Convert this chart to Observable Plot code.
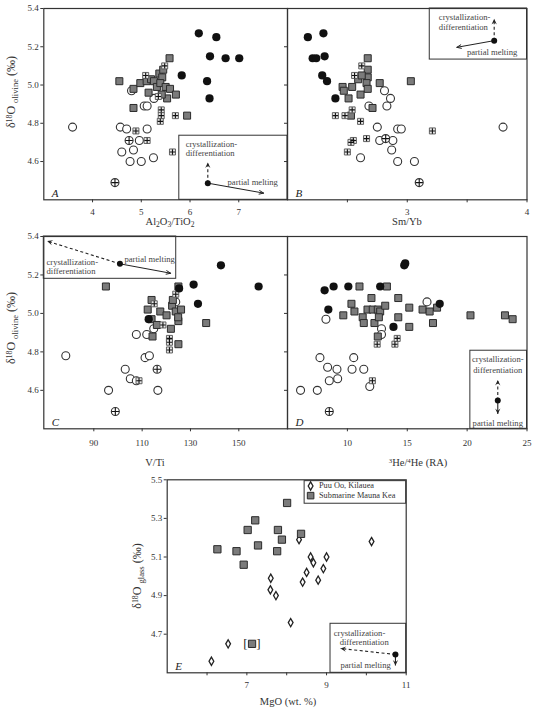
<!DOCTYPE html>
<html><head><meta charset="utf-8">
<script src="https://cdn.jsdelivr.net/npm/d3@7"></script>
<script src="https://cdn.jsdelivr.net/npm/@observablehq/plot@0.6"></script>
<style>
body{margin:0;background:#fff;}
#fig{position:relative;width:534px;height:708px;overflow:hidden;font-family:"Liberation Serif","Times New Roman",serif;color:#333;background:#fff;}
.lab{position:absolute;white-space:nowrap;line-height:1;}
.lab sup{font-size:0.65em;vertical-align:0.45em;line-height:0;}
.lab sub{font-size:0.72em;vertical-align:-0.35em;line-height:0;}
</style></head><body><div id="fig"></div>
<script>
// ---------- DATA ----------
// Panel A: delta18O olivine vs Al2O3/TiO2
const aBlack = [[6.18,5.27],[6.54,5.25],[6.41,5.15],[6.73,5.14],[7.01,5.14],[5.83,5.05],[6.35,5.02],[6.40,4.93]];
const aOpen = [[3.59,4.78],[4.80,4.97],[5.06,4.89],[5.12,4.89],[5.26,4.93],[4.57,4.78],[4.70,4.77],[5.12,4.77],[4.96,4.71],[4.60,4.65],[4.84,4.66],[4.77,4.60],[5.00,4.60],[5.25,4.62]];
const aCross = [[4.75,4.71],[4.46,4.49]];
const aGray = [[4.55,5.02],[4.84,4.98],[4.84,4.88],[4.98,5.01],[5.11,5.02],[5.20,5.03],[5.26,5.02],[5.32,4.99],[5.37,5.06],[5.43,5.04],[5.45,5.08],[5.58,5.14],[5.39,5.01],[5.50,4.99],[5.59,4.98],[5.53,4.93],[5.42,4.95],[5.71,4.95],[5.94,4.84],[5.15,4.96]];
const aPlus = [[4.89,4.76],[5.12,4.71],[5.39,4.81],[5.41,4.87],[5.41,4.84],[5.70,4.84],[5.64,4.65],[5.09,5.05],[5.48,5.10],[5.35,4.94]];
// Panel B: vs Sm/Yb
const bBlack = [[2.17,5.25],[2.30,5.27],[2.21,5.14],[2.24,5.14],[2.31,5.15],[2.29,5.05],[2.33,5.02],[2.40,4.93]];
const bOpen = [[2.81,4.97],[2.86,4.93],[2.83,4.89],[2.68,4.89],[2.75,4.78],[2.92,4.77],[2.95,4.77],[2.77,4.71],[2.88,4.71],[2.87,4.66],[2.61,4.62],[2.92,4.60],[3.06,4.60],[3.80,4.78]];
const bCross = [[3.10,4.49],[2.82,4.72]];
const bGray = [[2.67,5.14],[2.67,5.08],[2.59,5.03],[2.67,5.04],[2.62,5.05],[2.46,4.99],[2.54,4.99],[2.66,5.01],[2.67,4.98],[2.61,4.95],[2.51,4.93],[2.77,5.01],[3.03,5.02],[2.71,4.88],[2.53,4.84],[2.47,4.97]];
const bPlus = [[2.62,5.10],[2.56,5.05],[2.40,4.84],[2.48,4.84],[2.54,4.87],[2.61,4.81],[2.66,4.72],[2.55,4.71],[2.53,4.70],[2.50,4.65],[3.21,4.76]];
// Panel C: vs V/Ti
const cBlack = [[142.6,5.25],[131.3,5.15],[125.3,5.13],[133.1,5.05],[158.2,5.14],[112.7,4.97]];
const cOpen = [[78.4,4.78],[96.1,4.60],[103.0,4.71],[105.1,4.66],[107.6,4.65],[107.6,4.89],[111.9,4.89],[111.2,4.77],[113.0,4.78],[116.5,4.60],[114.8,4.92],[123.9,5.06]];
const cCross = [[98.9,4.49],[116.2,4.71]];
const cGray = [[95.0,5.14],[125.0,5.14],[112.3,5.02],[113.9,5.07],[113.9,4.97],[114.3,4.88],[116.1,4.94],[117.5,5.01],[120.1,4.99],[121.9,4.92],[122.4,5.04],[122.7,5.07],[123.9,5.01],[125.0,4.96],[126.1,5.02],[136.5,4.95],[125.0,4.84],[124.9,4.98]];
const cPlus = [[115.0,5.05],[123.9,5.10],[118.6,4.94],[121.3,4.87],[121.3,4.85],[121.3,4.81],[108.7,4.65]];
// Panel D: vs 3He/4He
const dBlack = [[8.10,5.12],[8.85,5.14],[10.08,5.14],[12.74,5.14],[8.41,5.02],[14.75,5.25],[14.83,5.26],[17.71,5.05],[13.85,4.93]];
const dOpen = [[8.21,4.97],[16.65,5.06],[12.85,4.92],[12.85,4.89],[7.71,4.77],[10.53,4.77],[8.35,4.72],[9.13,4.71],[10.39,4.71],[11.37,4.71],[8.49,4.65],[9.19,4.66],[6.09,4.60],[7.49,4.60],[11.87,4.62]];
const dCross = [[8.49,4.49]];
const dGray = [[11.01,5.14],[13.30,5.14],[9.66,4.99],[10.34,5.05],[10.59,5.01],[11.28,4.98],[11.37,4.95],[12.01,5.08],[11.68,5.02],[12.12,5.02],[12.54,5.02],[12.74,5.01],[12.26,4.95],[12.63,4.98],[13.16,5.04],[12.54,4.88],[14.25,5.08],[14.25,4.98],[15.17,5.03],[15.17,4.93],[16.28,5.02],[16.87,5.01],[17.15,4.95],[17.49,5.03],[20.28,4.99],[23.16,4.99],[23.80,4.97]];
const dPlus = [[12.49,4.84],[13.97,4.84],[14.16,4.87],[12.09,4.65]];
// Panel E: delta18O glass vs MgO
const ePuuOo = [[6.11,4.56],[6.53,4.65],[7.60,4.99],[7.59,4.93],[7.73,4.90],[8.10,4.76],[8.31,5.19],[8.40,4.97],[8.50,5.02],[8.60,5.10],[8.67,5.07],[8.79,4.98],[8.92,5.04],[9.00,5.10],[10.13,5.18]];
const eMaunaKea = [[6.26,5.14],[6.74,5.13],[6.92,5.06],[7.02,5.24],[7.21,5.29],[7.28,5.16],[7.78,5.24],[7.76,5.13],[7.88,5.19],[8.01,5.38],[8.36,5.22]];
const eBracketed = [[7.13,4.65]];
const legendNames = ["Puu Oo, Kilauea", "Submarine Mauna Kea"];

// tick values
const olivineTicks = [4.6, 4.8, 5.0, 5.2, 5.4];
const glassTicks = [4.7, 4.9, 5.1, 5.3, 5.5];
const alTiTicks = [4, 5, 6, 7];
const smYbTicks = [2.5, 3, 3.5, 4];
const smYbLabeled = [3, 4];
const vTiTicks = [90, 110, 130, 150];
const heTicks = [10, 15, 20, 25];
const mgoTicks = [6, 7, 8, 9, 10, 11];
const mgoLabeled = [7, 9, 11];
const insetLines = ["crystallization-", "differentiation", "partial melting"];

// ---------- annotations (data units) ----------
const insetA = {box:[5.78,8,4.4,4.735], dot:[6.365,4.487], up:[6.365,4.595], melt:[7.51,4.435], meltArrow:true, anchor:"start",
  text:[[5.91,4.688,insetLines[0]],[5.91,4.641,insetLines[1]],[6.77,4.49,insetLines[2]]]};
const insetB = {box:[3.188,4,5.133,5.4], dot:[3.726,5.232], up:[3.726,5.346], melt:[3.414,5.197], meltArrow:true, anchor:"start",
  text:[[3.264,5.354,insetLines[0]],[3.264,5.302,insetLines[1]],[3.498,5.171,insetLines[2]]]};
const insetC = {box:[69.3,124.1,5.18,5.4], dot:[100.8,5.258], up:[70.7,5.376], melt:[121.8,5.209], meltArrow:true, anchor:"start",
  text:[[70.4,5.266,insetLines[0]],[70.4,5.219,insetLines[1]],[102.7,5.28,insetLines[2]]]};
const insetD = {box:[20.27,25,4.4,4.806], dot:[22.56,4.547], up:[22.56,4.654], melt:[22.56,4.477], meltArrow:false, anchor:"middle",
  text:[[22.56,4.761,insetLines[0]],[22.56,4.704,insetLines[1]],[22.56,4.43,insetLines[2]]]};
const insetE = {box:[9.1,11,4.5,4.754], dot:[10.73,4.595], up:[9.35,4.626], melt:[10.73,4.538], meltArrow:false, anchor:"start",
  text:[[9.18,4.705,insetLines[0]],[9.33,4.659,insetLines[1]],[9.35,4.541,insetLines[2]]]};

// ---------- drawing ----------
const INK = "#333";
const FONT = "'Liberation Serif','Times New Roman',serif";
const fig = document.getElementById("fig");
const X = d => d[0], Y = d => d[1];

const chevron = {
  draw(ctx, size) {
    const s = Math.sqrt(size);
    const L = s * 0.95, W = s * 0.45;
    ctx.moveTo(0, 0);
    ctx.lineTo(W, L);
    ctx.lineTo(0, L * 0.6);
    ctx.lineTo(-W, L);
    ctx.closePath();
  }
};

function seriesMarks(s) {
  const m = [];
  if (s.open) m.push(Plot.dot(s.open, {x:X, y:Y, r:4, fill:"white", stroke:INK, strokeWidth:1.1}));
  if (s.cross) m.push(
    Plot.dot(s.cross, {x:X, y:Y, r:4, fill:"white", stroke:INK, strokeWidth:1.1}),
    Plot.dot(s.cross, {x:X, y:Y, symbol:"plus", r:2.5, stroke:"#111", strokeWidth:1.1}));
  if (s.gray) m.push(Plot.dot(s.gray, {x:X, y:Y, symbol:"square", r:3.95, fill:"#7b7b7b", stroke:"#2b2b2b", strokeWidth:1}));
  if (s.plus) m.push(
    Plot.dot(s.plus, {x:X, y:Y, symbol:"square", r:3.4, fill:"#e6e6e6", stroke:"#555", strokeWidth:0.9}),
    Plot.dot(s.plus, {x:X, y:Y, symbol:"plus", r:1.9, stroke:"#111", strokeWidth:1.1}));
  if (s.black) m.push(Plot.dot(s.black, {x:X, y:Y, r:4.1, fill:"#111", stroke:"none"}));
  return m;
}

function head(from, to, xs, ys) {
  const dx = xs(to[0]) - xs(from[0]), dy = ys(to[1]) - ys(from[1]);
  const ang = Math.atan2(dx, -dy) * 180 / Math.PI;
  return Plot.dot([to], {x:X, y:Y, symbol:chevron, r:3.3, fill:"#222", stroke:"none", rotate:ang});
}

function insetMarks(a, xs, ys) {
  const seg = [[a.dot, a.up]], seg2 = [[a.dot, a.melt]];
  const L = {x1:d=>d[0][0], y1:d=>d[0][1], x2:d=>d[1][0], y2:d=>d[1][1]};
  const m = [
    Plot.rect([a.box], {x1:d=>d[0], x2:d=>d[1], y1:d=>d[2], y2:d=>d[3], fill:"white", stroke:INK, strokeWidth:1}),
    Plot.link(seg, {...L, stroke:"#222", strokeWidth:1.1, strokeDasharray:"3,2.5"}),
    head(a.dot, a.up, xs, ys)
  ];
  if (a.meltArrow) m.push(Plot.arrow(seg2, {...L, stroke:"#222", strokeWidth:1, headLength:7, headAngle:45}));
  else m.push(Plot.link(seg2, {...L, stroke:"#222", strokeWidth:1.1}), head(a.dot, a.melt, xs, ys));
  m.push(Plot.dot([a.dot], {x:X, y:Y, r:3, fill:"#111"}));
  m.push(Plot.text(a.text, {x:X, y:Y, text:d=>d[2], textAnchor:a.anchor, lineAnchor:"middle", fontSize:8.6, fill:"#444"}));
  return m;
}

function panel(o) {
  const xs = d3.scaleLinear(o.xd, [o.ml, o.w - o.mr]);
  const ys = d3.scaleLinear(o.yd, [o.h - o.mb, o.mt]);
  const marks = [
    Plot.axisX({ticks:o.xt, tickFormat:o.xf, tickSize:3, tickPadding:o.xpad, label:null, fontSize:9}),
    Plot.axisY({ticks:o.yt, tickFormat:o.yf, tickSize:3, tickPadding:2, label:null, fontSize:9}),
    ...seriesMarks(o.s),
    ...insetMarks(o.inset, xs, ys),
    ...(o.extra || []),
    Plot.frame({stroke:INK, strokeWidth:1.2}),
    Plot.text([o.letter], {text:d=>d, frameAnchor:"bottom-left", dx:8, dy:-3, fontStyle:"italic", fontSize:11, fill:"#222"})
  ];
  const svg = Plot.plot({
    width:o.w, height:o.h, marginLeft:o.ml, marginRight:o.mr, marginTop:o.mt, marginBottom:o.mb,
    x:{domain:o.xd}, y:{domain:o.yd},
    style:{fontFamily:FONT, fontSize:"9px", color:INK, background:"none", overflow:"visible"},
    marks
  });
  svg.style.position = "absolute";
  svg.style.left = o.left + "px";
  svg.style.top = o.top + "px";
  fig.appendChild(svg);
}

const fmt1 = d3.format(".1f");
const noLab = () => "";

panel({left:0, top:0, w:290, h:226, ml:43.3, mr:3, mt:8, mb:26.7, xd:[3,8], yd:[4.4,5.4],
  xt:alTiTicks, xf:d=>d, xpad:6, yt:olivineTicks, yf:fmt1, letter:"A", inset:insetA,
  s:{open:aOpen, cross:aCross, gray:aGray, plus:aPlus, black:aBlack}});
panel({left:284, top:0, w:246, h:226, ml:3, mr:3.5, mt:8, mb:26.7, xd:[2,4], yd:[4.4,5.4],
  xt:smYbTicks, xf:d=>smYbLabeled.includes(d) ? d : "", xpad:6, yt:olivineTicks, yf:noLab, letter:"B", inset:insetB,
  s:{open:bOpen, cross:bCross, gray:bGray, plus:bPlus, black:bBlack}});
panel({left:0, top:228, w:290, h:224, ml:43.3, mr:3, mt:8, mb:23.7, xd:[69.3,170.15], yd:[4.4,5.4],
  xt:vTiTicks, xf:d=>d, xpad:8, yt:olivineTicks, yf:fmt1, letter:"C", inset:insetC,
  s:{open:cOpen, cross:cCross, gray:cGray, plus:cPlus, black:cBlack}});
panel({left:284, top:228, w:246, h:224, ml:3, mr:3.5, mt:8, mb:23.7, xd:[5,25], yd:[4.4,5.4],
  xt:heTicks, xf:d=>d, xpad:8, yt:olivineTicks, yf:noLab, letter:"D", inset:insetD,
  s:{open:dOpen, cross:dCross, gray:dGray, plus:dPlus, black:dBlack}});

// Panel E extras: legend + bracketed sample
const legendE = [
  Plot.rect([[8.45,11,5.376,5.493]], {x1:d=>d[0], x2:d=>d[1], y1:d=>d[2], y2:d=>d[3], fill:"white", stroke:INK, strokeWidth:1}),
  Plot.dot([[8.60,5.468]], {x:X, y:Y, symbol:"diamond", r:2.5, fill:"white", stroke:"#222", strokeWidth:1.3}),
  Plot.dot([[8.60,5.418]], {x:X, y:Y, symbol:"square", r:3.7, fill:"#7b7b7b", stroke:"#2b2b2b", strokeWidth:1}),
  Plot.text([[8.81,5.470,legendNames[0]],[8.81,5.418,legendNames[1]]], {x:X, y:Y, text:d=>d[2], textAnchor:"start", lineAnchor:"middle", fontSize:8.3, fill:"#333"})
];
const eMarks = [
  Plot.dot(ePuuOo, {x:X, y:Y, symbol:"diamond", r:2.5, fill:"white", stroke:"#222", strokeWidth:1.3}),
  Plot.dot(eMaunaKea, {x:X, y:Y, symbol:"square", r:4.1, fill:"#7b7b7b", stroke:"#2b2b2b", strokeWidth:1}),
  Plot.dot(eBracketed, {x:X, y:Y, symbol:"square", r:4.1, fill:"#7b7b7b", stroke:"#2b2b2b", strokeWidth:1}),
  Plot.text(eBracketed, {x:X, y:Y, text:()=>"[", dx:-6.5, fontSize:13, fill:"#222"}),
  Plot.text(eBracketed, {x:X, y:Y, text:()=>"]", dx:6.5, fontSize:13, fill:"#222"}),
  ...legendE
];
panel({left:124, top:471, w:290, h:237, ml:42.7, mr:8.3, mt:8.3, mb:35.7, xd:[5,11], yd:[4.5,5.5],
  xt:mgoTicks, xf:d=>mgoLabeled.includes(d) ? d : "", xpad:6, yt:glassTicks, yf:fmt1, letter:"E", inset:insetE,
  s:{}, extra:eMarks});

// ---------- axis titles (HTML text) ----------
function label(html, x, y, size, rotate) {
  const el = document.createElement("div");
  el.className = "lab";
  el.innerHTML = html;
  el.style.left = x + "px";
  el.style.top = y + "px";
  el.style.fontSize = size + "px";
  el.style.transform = "translate(-50%,-50%)" + (rotate ? " rotate(-90deg)" : "");
  fig.appendChild(el);
}
label("δ<sup>18</sup>O <sub>olivine</sub> (‰)", 11, 92, 12, true);
label("δ<sup>18</sup>O <sub>olivine</sub> (‰)", 11, 328, 12, true);
label("δ<sup>18</sup>O <sub>glass</sub> (‰)", 137, 576, 12, true);
label("Al<sub>2</sub>O<sub>3</sub>/TiO<sub>2</sub>", 170, 222, 10.5, false);
label("Sm/Yb", 407, 222, 10.5, false);
label("V/Ti", 155, 463, 10.5, false);
label("<sup>3</sup>He/<sup>4</sup>He (RA)", 418, 463, 10.5, false);
label("MgO (wt. %)", 288, 702, 10.5, false);
</script></body></html>
